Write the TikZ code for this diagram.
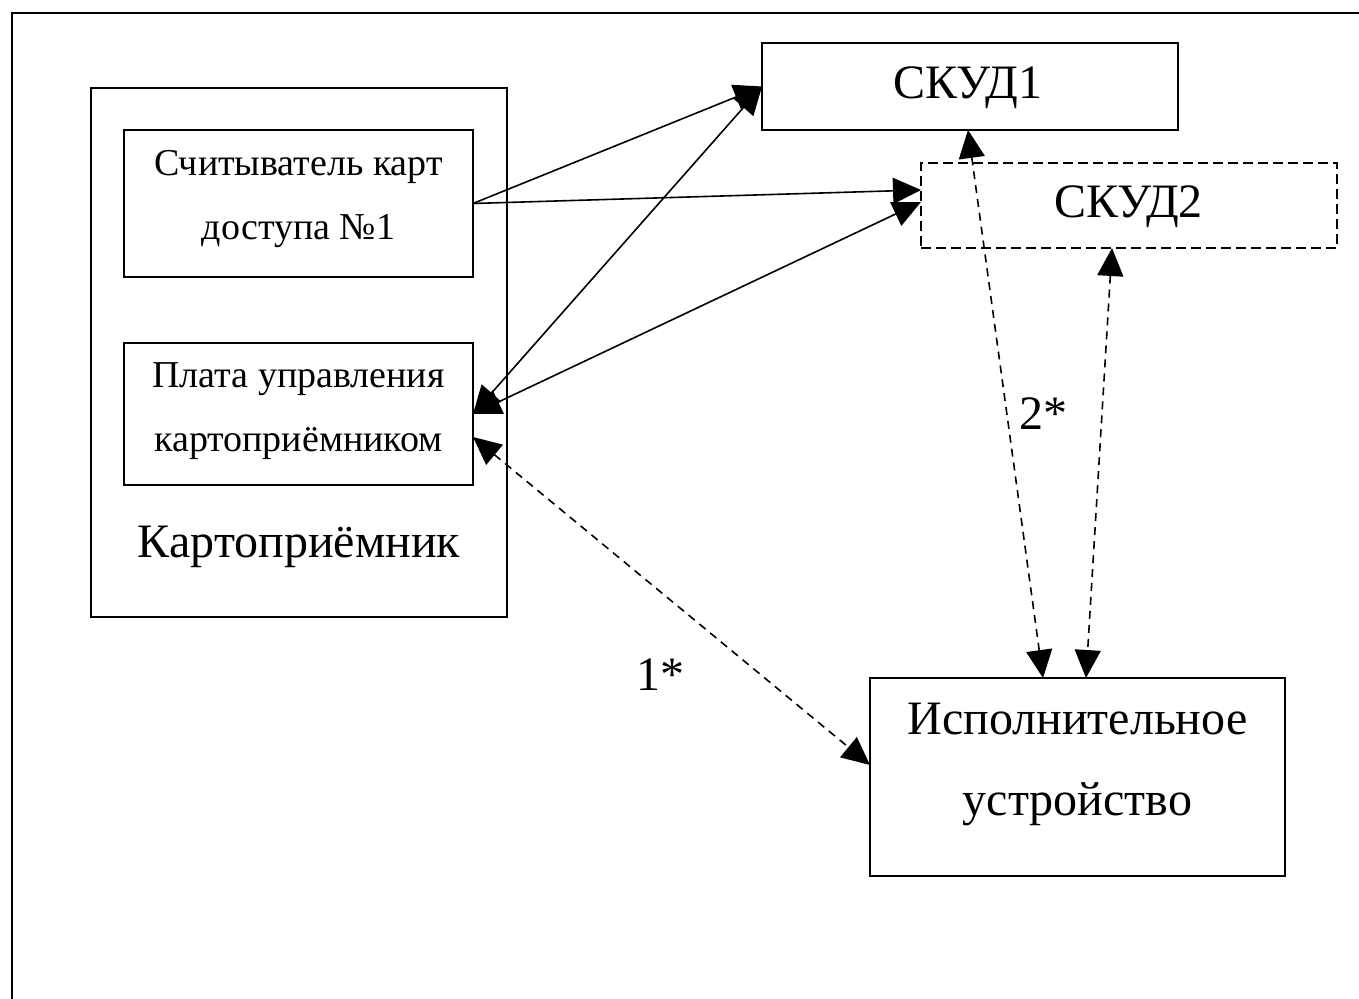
\documentclass[tikz,border=0pt]{standalone}
\usepackage{fontspec}
\setmainfont{Liberation Serif}
\usetikzlibrary{arrows.meta}
\tikzset{
  box/.style={draw, line width=1pt, rectangle, inner sep=0pt, outer sep=0pt},
  dbox/.style={box, dash pattern=on 5pt off 2.5pt},
  big/.style={font=\fontsize{24}{28}\selectfont, inner sep=0pt, anchor=base},
  small/.style={font=\fontsize{19}{22}\selectfont, inner sep=0pt, anchor=base},
  conn/.style={line width=0.8pt, >={Triangle[length=14pt,width=13pt]}},
  dconn/.style={conn, dash pattern=on 4pt off 3pt},
}
\begin{document}
\begin{tikzpicture}[x=0.5pt,y=-0.5pt]
\useasboundingbox (0,0) rectangle (1359,999);
\clip (0,0) rectangle (1359,999);
\draw[line width=1pt] (12,13) rectangle (1420,1060);
% boxes
\node[box, minimum width=208pt, minimum height=264.5pt] (kart) at (299,352.5) {};
\node[box, minimum width=174.5pt, minimum height=73.5pt] (reader) at (298.5,203.5) {};
\node[box, minimum width=174.5pt, minimum height=71pt] (plata) at (298.5,414) {};
\node[box, minimum width=208pt, minimum height=43.5pt] (skud1) at (970,86.5) {};
\node[dbox, minimum width=208pt, minimum height=42.5pt] (skud2) at (1129,205.5) {};
\node[box, minimum width=207.5pt, minimum height=99pt] (isp) at (1077.5,777) {};
% texts
\node[small] (t1) at (298.5,176) {Считыватель карт};
\node[small] (t2) at (298.5,240) {доступа №1};
\node[small] (t3) at (298.5,388) {Плата управления};
\node[small] (t4) at (298.5,452) {картоприёмником};
\node[big] (t5) at (299,558) {Картоприёмник};
\node[big] (t6) at (968,99) {СКУД1};
\node[big] (t7) at (1128.5,218) {СКУД2};
\node[big] (t8) at (1077.5,734) {Исполнительное};
\node[big] (t9) at (1077.5,815) {устройство};
\node[big] (l1) at (660,690) {1*};
\node[big] (l2) at (1043,430) {2*};
% connectors
\draw[conn,->] (reader.east) -- (skud1.west);
\draw[conn,->] (reader.east) -- ([yshift=7.75pt]skud2.west);
\draw[conn,<->] (plata.east) -- (skud1.west);
\draw[conn,<->] (plata.east) -- ([yshift=1.75pt]skud2.west);
\draw[dconn,<->] ([yshift=-11.5pt]plata.east) -- ([yshift=6pt]isp.west);
\draw[dconn,<->] ([xshift=-1pt]skud1.south) -- ([xshift=-17.25pt]isp.north);
\draw[dconn,<->] ([xshift=-8.5pt]skud2.south) -- ([xshift=4.25pt]isp.north);
\end{tikzpicture}
\end{document}
